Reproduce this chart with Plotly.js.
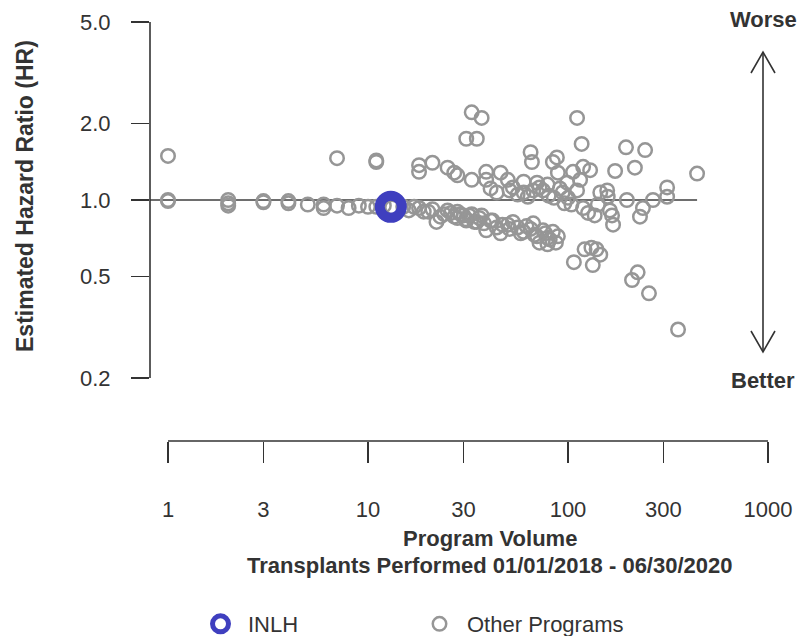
<!DOCTYPE html>
<html><head><meta charset="utf-8">
<script src="https://cdn.plot.ly/plotly-3.0.1.min.js"></script>
<style>html,body{margin:0;padding:0;background:#fff}</style>
</head><body><div id="chart" style="width:807px;height:636px"></div>
<script>
// ---- Data ----
const volume = [
  1,1,1, 2,2,2, 3,3, 4,4, 5, 6,6, 7,7, 8, 9, 10, 11,11,11, 12, 13.2,
  15,16,17,18,19,20,22,23,24,26,27,28,29,30,31,31,32,34,35,36,38,39,41,42,44,46,47,50,51,53,56,58,60,62,65,67,68,70,72,75,77,79,81,84,87,89,79,
  21,25,28,33,37,
  18,18,21,25,27,28,33,39,39,46,50,53,60,65,66,67,70,75,84,88,89,94,99,106,111,44,60,51,41,72,79,91,
  56,63,80,85,100,
  33,37,31,35,111,117,195,243,216,172,442,313,313,266,197,237,229,157,158,162,166,168,119,126,136,145,119,129,115,141,96,104,
  107,121,133,145,131,139,209,223,254,355
];
const hazardRatio = [
  1.49,1.00,0.99, 1.00,0.97,0.95, 0.99,0.98, 0.99,0.97, 0.96, 0.96,0.93, 0.95,1.46, 0.93, 0.95, 0.94, 1.41,1.43,0.94, 0.95, 0.935,
  0.94,0.91,0.94,0.93,0.90,0.90,0.82,0.86,0.88,0.89,0.86,0.85,0.88,0.87,0.84,0.83,0.87,0.82,0.82,0.85,0.81,0.76,0.83,0.83,0.78,0.74,0.80,0.80,0.77,0.82,0.78,0.74,0.75,0.79,0.77,0.81,0.73,0.72,0.68,0.76,0.74,0.71,0.70,0.75,0.68,0.72,0.67,
  0.92,0.91,0.90,0.88,0.87,
  1.37,1.29,1.40,1.34,1.28,1.25,1.20,1.29,1.20,1.28,1.20,1.12,1.18,1.54,1.41,1.09,1.17,1.09,1.41,1.47,1.28,1.07,1.17,1.29,1.09,1.07,1.07,1.09,1.11,1.12,1.15,1.11,
  1.05,1.03,1.04,1.02,1.02,
  2.21,2.10,1.74,1.74,2.10,1.66,1.61,1.57,1.34,1.30,1.27,1.12,1.03,1.00,1.00,0.93,0.86,1.09,1.03,0.91,0.87,0.80,0.93,0.89,0.87,1.07,1.35,1.31,1.20,0.96,0.97,0.96,
  0.57,0.64,0.555,0.61,0.65,0.64,0.485,0.52,0.43,0.31
];
const inlhVolume = [13];
const inlhHR = [0.94];
const xTickVals = [1,3,10,30,100,300,1000];
const xTickText = ['1','3','10','30','100','300','1000'];
const yTickVals = [0.2,0.5,1,2,5];
const yTickText = ['0.2','0.5','1.0','2.0','5.0'];
const referenceHR = 1;

// ---- Geometry ----
const W = 807, H = 636;
const M = {l:150, r:17, t:22, b:195, autoexpand:false};
const xRange = [-0.09, 3.11];
const yRange = [Math.log10(0.2) - 63/254.6, Math.log10(5)];
const pw = W - M.l - M.r, ph = H - M.t - M.b;
const pX = px => (px - M.l) / pw;
const pY = py => (H - M.b - py) / ph;
const xv = v => (Math.log10(v) - xRange[0]) / (xRange[1] - xRange[0]);
const yv = v => (Math.log10(v) - yRange[0]) / (yRange[1] - yRange[0]);

const DARK = '#333333', GRAY = '#969696', BLUE = '#3f3fbf';
const FONT = 'Liberation Sans, Arial, Helvetica, sans-serif';

const traces = [
  { x: [Math.pow(10, xRange[0]), Math.max(...volume)], y: [referenceHR, referenceHR],
    mode: 'lines', line: {color: '#6e6e6e', width: 2}, showlegend: false, hoverinfo: 'skip', cliponaxis: false },
  { x: volume, y: hazardRatio, mode: 'markers', name: 'Other Programs', cliponaxis: false,
    marker: {symbol: 'circle-open', size: 13.5, color: GRAY, line: {width: 2.5, color: GRAY}} },
  { x: inlhVolume, y: inlhHR, mode: 'markers', name: 'INLH', cliponaxis: false,
    marker: {symbol: 'circle-open', size: 22, color: BLUE, line: {width: 10, color: BLUE}} }
];

const lineStyle = {color: DARK, width: 1.6};
const ax = pX(763);
const shapes = [
  {type:'line', xref:'paper', yref:'paper', x0:0, x1:0, y0:yv(0.2), y1:yv(5), line: lineStyle},
  {type:'line', xref:'paper', yref:'paper', x0:xv(1), x1:xv(1000), y0:0, y1:0, line: lineStyle},
  {type:'line', xref:'paper', yref:'paper', x0:ax, x1:ax, y0:pY(352), y1:pY(52), line: lineStyle},
  {type:'path', xref:'paper', yref:'paper', line: lineStyle,
   path:`M${pX(751)},${pY(73)} L${ax},${pY(52)} L${pX(775)},${pY(73)}`},
  {type:'path', xref:'paper', yref:'paper', line: lineStyle,
   path:`M${pX(751)},${pY(331)} L${ax},${pY(352)} L${pX(775)},${pY(331)}`}
];

const ann = (text, x, y, extra) => Object.assign({text, x, y, xref:'paper', yref:'paper',
  showarrow:false, xanchor:'center', yanchor:'middle', font:{family:FONT, size:22, color:DARK}}, extra||{});

const annotations = [
  ann('<b>Program Volume</b>', pX(490), pY(538)),
  ann('<b>Transplants Performed 01/01/2018 - 06/30/2020</b>', pX(490), pY(565)),
  ann('<b>Estimated Hazard Ratio (HR)</b>', pX(25), pY(196), {textangle:-90, font:{family:FONT, size:23, color:DARK}}),
  ann('<b>Worse</b>', ax, pY(20)),
  ann('<b>Better</b>', ax, pY(380))
];

const layout = {
  width: W, height: H, margin: M,
  paper_bgcolor: '#fff', plot_bgcolor: '#fff',
  font: {family: FONT, size: 22, color: DARK},
  xaxis: {type:'log', range: xRange, showgrid:false, zeroline:false, showline:false, automargin:false,
    tickmode:'array', tickvals: xTickVals, ticktext: xTickText, ticks:'outside', ticklen:21,
    tickwidth:1.6, tickcolor: DARK, ticklabelstandoff: 28, tickfont:{size:22, color:DARK}},
  yaxis: {type:'log', range: yRange, showgrid:false, zeroline:false, showline:false, automargin:false,
    tickmode:'array', tickvals: yTickVals, ticktext: yTickText, ticks:'outside', ticklen:18,
    tickwidth:1.6, tickcolor: DARK, ticklabelstandoff: 16, tickfont:{size:22, color:DARK}},
  showlegend: true,
  legend: {orientation:'h', x: pX(193), xanchor:'left', y: pY(624), yanchor:'middle',
    traceorder:'reversed', font:{size:22, color:DARK}, itemwidth:45, entrywidth:159, itemsizing:'trace',
    bgcolor:'rgba(0,0,0,0)'},
  shapes, annotations
};

Plotly.newPlot('chart', traces, layout, {staticPlot:true, displayModeBar:false});
</script>
</body></html>
